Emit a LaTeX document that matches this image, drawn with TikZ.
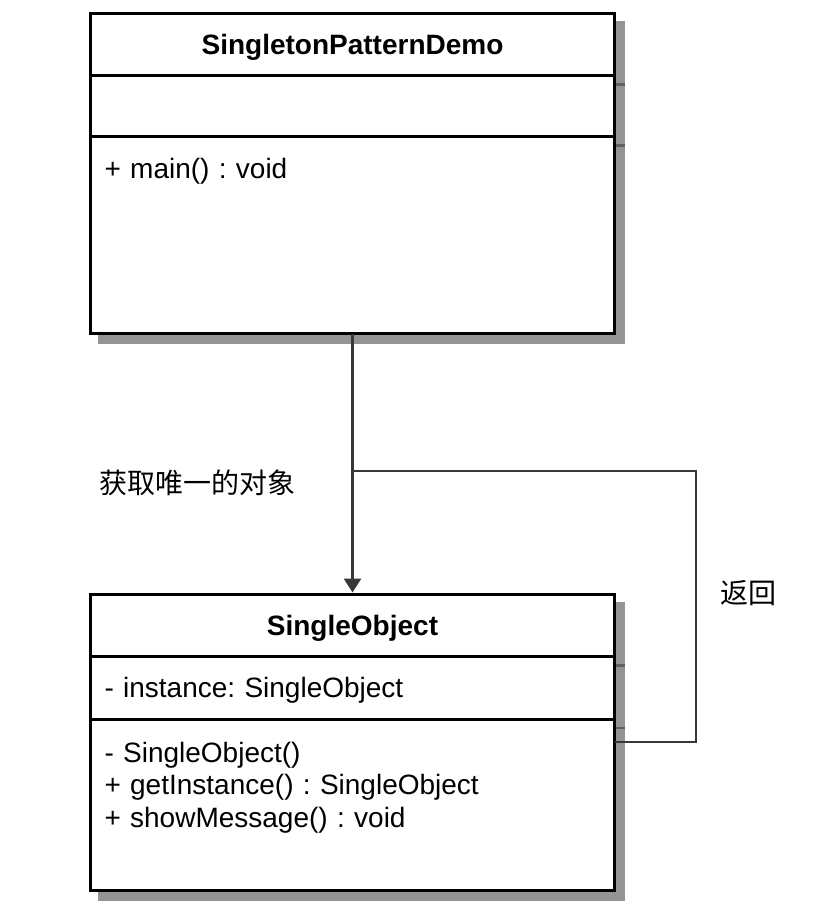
\documentclass[tikz,border=0pt]{standalone}
\usepackage{fontspec}
\setmainfont{Liberation Sans}
\newfontfamily\cjkfont{Noto Sans CJK SC}
\usetikzlibrary{positioning,shadows,arrows.meta}
\newcommand{\umlfont}{\fontsize{28pt}{32.5pt}\selectfont\frenchspacing}

\tikzset{
  compart/.style={draw=black, fill=white, line width=3pt, outer sep=0pt,
    inner ysep=0pt, inner xsep=14pt, text width=496pt, font=\umlfont,
    drop shadow={shadow xshift=9pt, shadow yshift=-9pt, fill=black!42,
      draw=black!42, line width=3pt, opacity=1}},
  classname/.style={compart, align=center, font=\umlfont\bfseries,
    minimum height=62pt, text height=20pt, text depth=0pt},
  members/.style={compart, align=left, minimum height=61pt,
    text height=20pt, text depth=0pt},
  ops/.style={compart, align=left},
  shadowline/.style={line width=2.5pt, black!62},
  link/.style={line width=2pt, black!78},
  lbl/.style={font=\cjkfont\fontsize{28pt}{32pt}\selectfont, inner sep=0pt}
}

\begin{document}
\begin{tikzpicture}[x=1pt,y=-1pt]
    \useasboundingbox (0,0) rectangle (836,920);
    % SingletonPatternDemo
    \node[classname] (demotitle) at (352.5,44.5) {SingletonPatternDemo};
    \node[members, below=0pt of demotitle] (demoattr) {};
    \node[ops, text height=42pt, text depth=155pt, below=0pt of demoattr] (demoops) {+ main() : void};
    % SingleObject
    \node[classname, minimum height=62.5pt] (objtitle) at (352.5,625.25) {SingleObject};
    \node[members, minimum height=62.5pt, below=0pt of objtitle] (objattr) {- instance: SingleObject};
    \node[ops, text height=43pt, text depth=128pt, below=0pt of objattr] (objops) {- SingleObject()\\+ getInstance() : SingleObject\\+ showMessage() : void};
    % divider shadows
    \foreach \c in {demotitle,demoattr,objtitle,objattr}
      \draw[shadowline] ([shift={(1.5pt,-9pt)}]\c.south east) -- ([shift={(10.5pt,-9pt)}]\c.south east);
    % calls
    \coordinate (back) at (352.5,470.5);
    \draw[link, line width=2.8pt, -{Triangle[width=17pt,length=14pt]}, shorten >=1.5pt] (demoops.south) -- (objtitle.north);
    \draw[link] ([yshift=-23pt]objops.north east) -- ++(81,0) |- (back);
    \node[lbl] (fetchlbl) at (197.5,483) {获取唯一的对象};
    \node[lbl] (backlbl) at (748,593) {返回};
\end{tikzpicture}
\end{document}
